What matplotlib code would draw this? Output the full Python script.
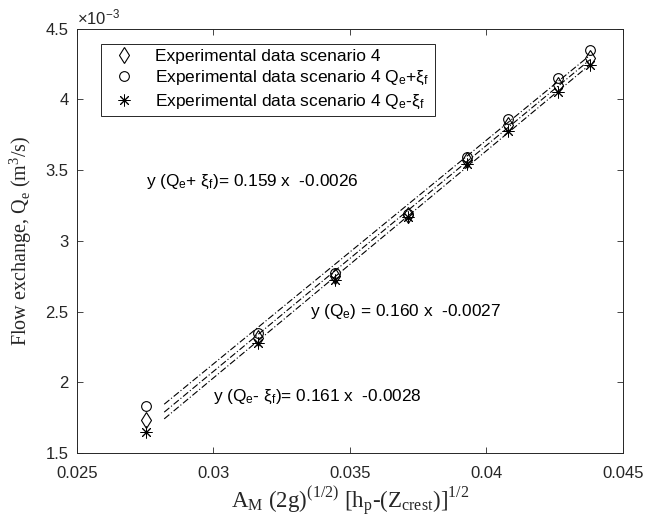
import numpy as np
import matplotlib
matplotlib.use('Agg')
import matplotlib.pyplot as plt
from matplotlib.ticker import FuncFormatter, FixedLocator

# данные (Qe в м3/с)
x_vals = [0.02753, 0.03163, 0.03445, 0.03712, 0.03929, 0.04079, 0.04262, 0.04379]
qe = [1.73e-3, 2.31e-3, 2.75e-3, 3.18e-3, 3.57e-3, 3.82e-3, 4.10e-3, 4.29e-3]
qe_plus = [1.83e-3, 2.345e-3, 2.77e-3, 3.19e-3, 3.59e-3, 3.86e-3, 4.15e-3, 4.35e-3]
qe_minus = [1.65e-3, 2.28e-3, 2.725e-3, 3.165e-3, 3.54e-3, 3.78e-3, 4.05e-3, 4.24e-3]

fit_labels = [r'y (Q$_\mathregular{e}$+ ξ$_\mathregular{f}$)= 0.159 x  -0.0026',
              r'y (Q$_\mathregular{e}$) = 0.160 x  -0.0027',
              r'y (Q$_\mathregular{e}$- ξ$_\mathregular{f}$)= 0.161 x  -0.0028']

plt.rcParams['font.family'] = ['Liberation Sans', 'DejaVu Sans']
plt.rcParams['mathtext.fontset'] = 'custom'
plt.rcParams['mathtext.rm'] = 'Liberation Sans'
plt.rcParams['mathtext.it'] = 'Liberation Sans:italic'

gray = '#262626'

fig = plt.figure(figsize=(6.46, 5.21), dpi=100)
ax = fig.add_axes([0.119, 0.1305, 0.845, 0.8145])

# линии регрессии
xl = np.array([0.0282, 0.0438])
for ys in (qe_plus, qe, qe_minus):
    k, b = np.polyfit(x_vals, ys, 1)
    ax.plot(xl, k * xl + b, color='k', ls='-.', lw=0.8, dashes=(6, 2, 1, 2))

ax.plot(x_vals, qe, ls='none', marker='d', ms=8, mfc='none', mec='k', mew=0.8,
        label='Experimental data scenario 4')
ax.plot(x_vals, qe_plus, ls='none', marker='o', ms=7, mfc='none', mec='k', mew=0.8,
        label=r'Experimental data scenario 4 Q$_\mathregular{e}$+ξ$_\mathregular{f}$')
ax.plot(x_vals, qe_minus, ls='none', marker=(8, 2, 0), ms=8.5, mfc='none', mec='k', mew=0.7,
        label=r'Experimental data scenario 4 Q$_\mathregular{e}$-ξ$_\mathregular{f}$')

ax.text(0.02753, 3.417e-3, fit_labels[0], fontsize=12.4, va='center')
ax.text(0.03353, 2.497e-3, fit_labels[1], fontsize=12.4, va='center')
ax.text(0.0300, 1.896e-3, fit_labels[2], fontsize=12.4, va='center')

ax.set_xlim(0.025, 0.045)
ax.set_ylim(1.5e-3, 4.5e-3)
ax.xaxis.set_major_locator(FixedLocator([0.025, 0.03, 0.035, 0.04, 0.045]))
ax.yaxis.set_major_locator(FixedLocator(np.arange(1.5, 4.51, 0.5) * 1e-3))
ax.xaxis.set_major_formatter(FuncFormatter(lambda v, p: f'{v:g}'))
ax.yaxis.set_major_formatter(FuncFormatter(lambda v, p: f'{v * 1e3:g}'))
ax.tick_params(direction='in', top=True, right=True, labelsize=12, colors=gray,
               length=4, width=0.6)
ax.tick_params(axis='x', pad=9)
ax.tick_params(axis='y', pad=6)
for s in ax.spines.values():
    s.set_color(gray)
    s.set_linewidth(0.7)

ax.text(0.0, 1.003, r'$\times$10$^{\mathregular{-3}}$', transform=ax.transAxes,
        fontsize=12, color=gray, va='bottom', ha='left')

ax.set_xlabel(r'A$_\mathregular{M}$ (2g)$^\mathregular{(1/2)}$ [h$_\mathregular{p}$-(Z$_\mathregular{crest}$)]$^\mathregular{1/2}$',
              family='Liberation Serif', fontsize=16.5, color=gray, labelpad=3)
ax.set_ylabel(r'Flow exchange, Q$_\mathregular{e}$ (m$^\mathregular{3}$/s)',
              family='Liberation Serif', fontsize=14.5, color=gray, labelpad=8)

leg = ax.legend(loc='upper left', bbox_to_anchor=(0.029, 0.985), fontsize=12.5,
                fancybox=False, edgecolor=gray, framealpha=1, handlelength=2.0,
                labelspacing=0.3, borderpad=0.3, handletextpad=0.8)
leg.get_frame().set_linewidth(0.7)

fig.savefig('out.png', dpi=100)
